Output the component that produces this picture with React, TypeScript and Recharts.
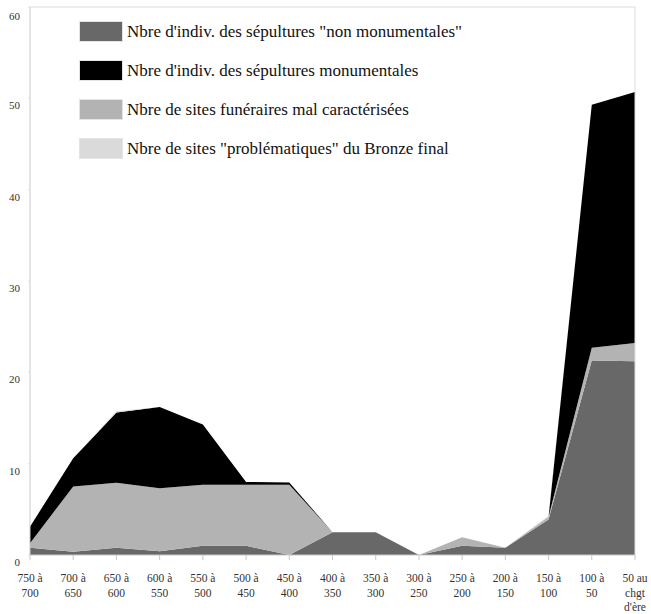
import React from 'react';
import { AreaChart, Area, XAxis, YAxis, ReferenceLine } from 'recharts';

// periods (two or three lines each, as on the axis)
const periodLines = [
    ['750 à', '700'],
    ['700 à', '650'],
    ['650 à', '600'],
    ['600 à', '550'],
    ['550 à', '500'],
    ['500 à', '450'],
    ['450 à', '400'],
    ['400 à', '350'],
    ['350 à', '300'],
    ['300 à', '250'],
    ['250 à', '200'],
    ['200 à', '150'],
    ['150 à', '100'],
    ['100 à', '50'],
    ['50 au', 'chgt', "d'ère"],
];

const nonMonumentales = [0.8, 0.35, 0.8, 0.4, 1.0, 1.0, 0, 2.5, 2.5, 0, 1.0, 0.8, 3.9, 21.3, 21.2];
const malCaracterisees = [0.5, 7.15, 7.1, 6.9, 6.7, 6.7, 7.7, 0, 0, 0, 0.95, 0, 0.3, 1.4, 2.0];
const monumentales = [1.8, 3.1, 7.7, 8.9, 6.6, 0.3, 0.25, 0, 0, 0, 0, 0, 0, 26.6, 27.5];
const problematiques = [0, 0, 0.15, 0, 0, 0, 0, 0, 0, 0, 0, 0, 0.1, 0, 0];

const yTicks = [0, 10, 20, 30, 40, 50, 60];

const legendItems = [
    { label: 'Nbre d\'indiv. des sépultures "non monumentales"', color: '#686868' },
    { label: "Nbre d'indiv. des sépultures monumentales", color: '#000000' },
    { label: 'Nbre de sites funéraires mal caractérisées', color: '#b3b3b3' },
    { label: 'Nbre de sites "problématiques" du Bronze final', color: '#dadada' },
];

const data = periodLines.map((lines, i) => ({
    period: lines.join(' '),
    nonMonumentales: nonMonumentales[i],
    malCaracterisees: malCaracterisees[i],
    monumentales: monumentales[i],
    problematiques: problematiques[i],
}));

const FONT = '"Liberation Serif", "Times New Roman", serif';

const XTick = (props: any) => {
    const { x, y, index } = props;
    const lines = periodLines[index] || [];
    return (
        <text x={x} y={y + 20} textAnchor="middle" fontFamily={FONT} fontSize={11.5} fill="#333">
            {lines.map((l, k) => (
                <tspan key={k} x={x} dy={k === 0 ? 0 : 14.5}>
                    {l}
                </tspan>
            ))}
        </text>
    );
};

const YTick = (props: any) => {
    const { x, y, payload } = props;
    return (
        <text x={x} y={y + 11} textAnchor="end" fontFamily={FONT} fontSize={11} fill="#333">
            {payload.value}
        </text>
    );
};

const LegendBox = () => (
    <div style={{ position: 'absolute', left: 79, top: 12, fontFamily: FONT, fontSize: 17, color: '#111' }}>
        {legendItems.map((it) => (
            <div key={it.label} style={{ display: 'flex', alignItems: 'center', height: 39 }}>
                <span
                    style={{
                        display: 'inline-block',
                        width: 42,
                        height: 19,
                        background: it.color,
                        border: '1px solid #e4e4e4',
                        marginRight: 4,
                    }}
                />
                <span>{it.label}</span>
            </div>
        ))}
    </div>
);

export default function App() {
    return (
        <div style={{ position: 'absolute', left: 0, top: 0, width: 651, height: 614 }}>
            <AreaChart
                width={651}
                height={614}
                data={data}
                margin={{ top: 7, right: 16, bottom: 0, left: 0 }}
            >
                <XAxis
                    dataKey="period"
                    height={59}
                    interval={0}
                    tick={<XTick />}
                    tickSize={5}
                    axisLine={{ stroke: '#c8c8c8' }}
                    tickLine={{ stroke: '#c8c8c8' }}
                />
                <YAxis
                    width={30}
                    domain={[0, 60]}
                    ticks={yTicks}
                    tick={<YTick />}
                    tickSize={2}
                    tickMargin={8}
                    axisLine={{ stroke: '#c8c8c8' }}
                    tickLine={{ stroke: '#dddddd' }}
                />
                <ReferenceLine y={60} stroke="#dddddd" />
                <ReferenceLine x={data[data.length - 1].period} stroke="#dddddd" />
                <Area type="linear" dataKey="nonMonumentales" stackId="1" fill="#686868" fillOpacity={1} stroke="none" isAnimationActive={false} />
                <Area type="linear" dataKey="malCaracterisees" stackId="1" fill="#b3b3b3" fillOpacity={1} stroke="none" isAnimationActive={false} />
                <Area type="linear" dataKey="monumentales" stackId="1" fill="#000000" fillOpacity={1} stroke="none" isAnimationActive={false} />
                <Area type="linear" dataKey="problematiques" stackId="1" fill="#dadada" fillOpacity={1} stroke="none" isAnimationActive={false} />
            </AreaChart>
            <LegendBox />
        </div>
    );
}
